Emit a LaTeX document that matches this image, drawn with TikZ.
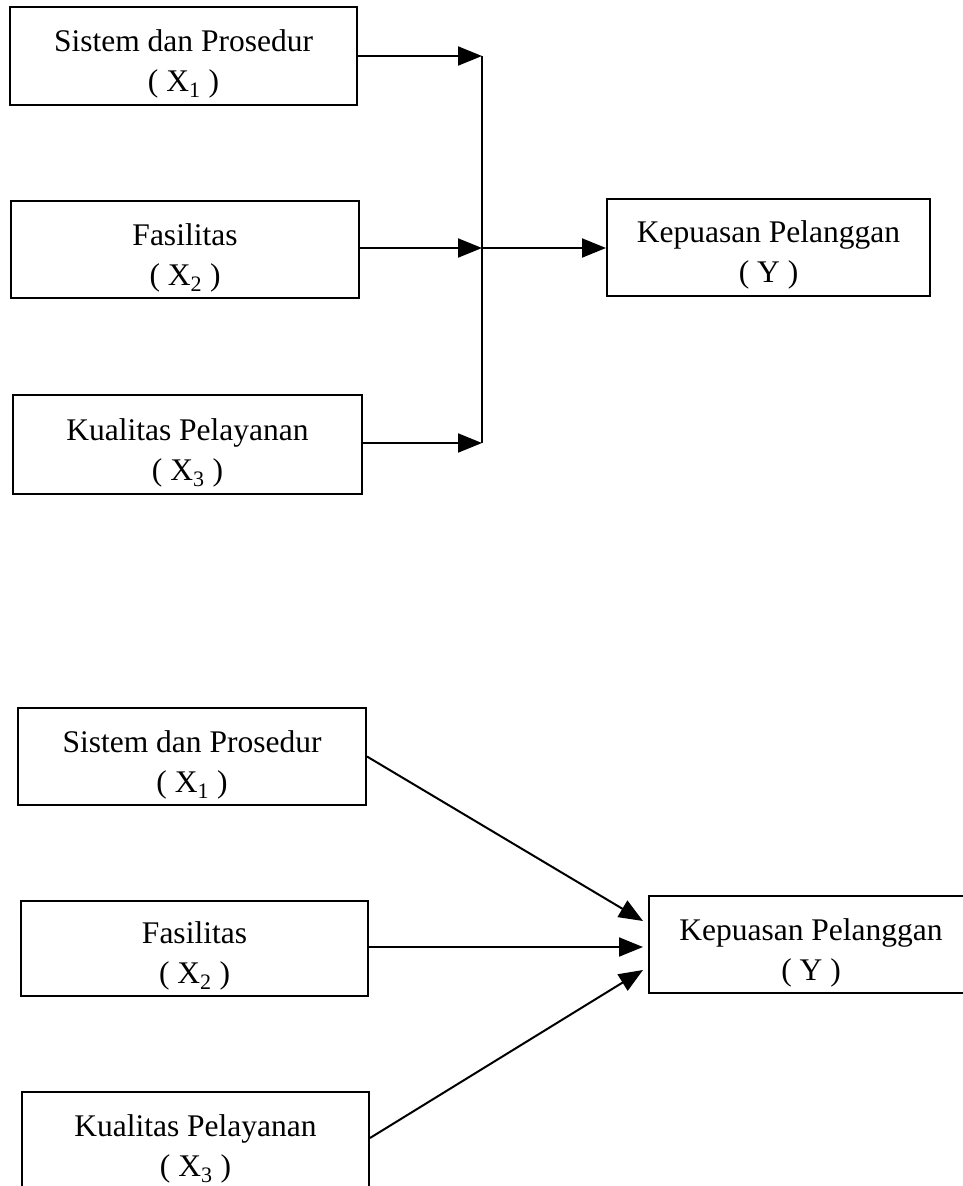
\documentclass[tikz,border=0pt]{standalone}
\usepackage{fontspec}
\setmainfont{Liberation Serif}
\usetikzlibrary{arrows.meta}
\newcommand{\dn}{\rule{0pt}{38pt}}
\begin{document}
\begin{tikzpicture}[x=1pt,y=-1pt,
  box/.style={draw, line width=2pt, inner sep=0pt, align=center,
    font=\fontsize{31.5}{40}\selectfont},
  arr/.style={line width=2pt, -{Triangle[length=24pt,width=19pt]}},
  ln/.style={line width=2pt}]
\useasboundingbox (0,0) rectangle (962,1186);
% ---------- top diagram ----------
\node[box, minimum width=347pt, minimum height=98pt] (a1) at (183.5,56)
  {\dn Sistem dan Prosedur\\( X\textsubscript{1} )};
\node[box, minimum width=348pt, minimum height=97pt] (a2) at (185,249.5)
  {\dn Fasilitas\\( X\textsubscript{2} )};
\node[box, minimum width=349pt, minimum height=99pt] (a3) at (187.5,444.5)
  {\dn Kualitas Pelayanan\\( X\textsubscript{3} )};
\node[box, minimum width=323pt, minimum height=97pt] (ay) at (768.5,247)
  {\dn Kepuasan Pelanggan\\( Y )};
\coordinate (j1) at (482,56);
\coordinate (j2) at (482,248);
\coordinate (j3) at (482,443);
\draw[ln] (j1) -- (j3);
\draw[arr] (a1.east) -- (j1);
\draw[arr] (a2.east |- j2) -- (j2);
\draw[arr] (a3.east |- j3) -- (j3);
\draw[arr] (j2) -- (ay.west |- j2);
% ---------- bottom diagram ----------
\node[box, minimum width=348pt, minimum height=97pt] (b1) at (192,756.5)
  {\dn Sistem dan Prosedur\\( X\textsubscript{1} )};
\node[box, minimum width=347pt, minimum height=95pt] (b2) at (194.5,948)
  {\dn Fasilitas\\( X\textsubscript{2} )};
\node[box, minimum width=347pt, minimum height=98pt] (b3) at (195.5,1141)
  {\dn Kualitas Pelayanan\\( X\textsubscript{3} )};
\node[box, minimum width=324pt, minimum height=97pt] (by) at (811,944.5)
  {\dn Kepuasan Pelanggan\\( Y )};
\coordinate (t1) at (643,921);
\coordinate (t2) at (643,947);
\coordinate (t3) at (643,970);
\draw[arr] (b1.east) -- (t1);
\draw[arr] (b2.east |- t2) -- (t2);
\draw[arr] (b3.east) ++(0,-3) coordinate (s3) (s3) -- (t3);
\end{tikzpicture}
\end{document}
